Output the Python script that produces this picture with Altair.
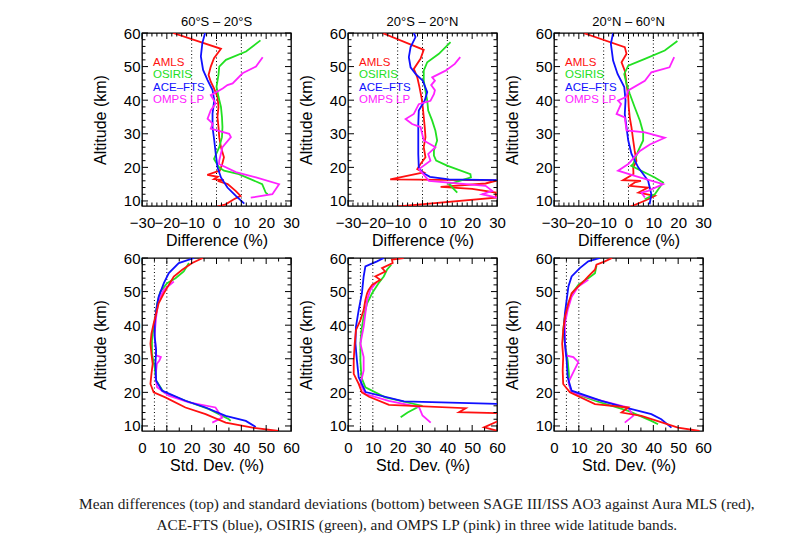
import altair as alt
import pandas as pd

FONT = "Liberation Sans"
SERIF = "Liberation Serif"

SERIES = ["AMLS", "OSIRIS", "ACE-FTS", "OMPS LP"]
LEGEND_LABELS = ["AMLS", "OSIRIS", "ACE\u2013FTS", "OMPS LP"]
COLORS = ["#ff1010", "#22e022", "#1010ff", "#ff22ff"]

TITLES = ["60\u00b0S \u2013 20\u00b0S", "20\u00b0S \u2013 20\u00b0N", "20\u00b0N \u2013 60\u00b0N"]

# ---------------- Mean differences (top row) ----------------
# 60S-20S
D1_AMLS_ALT = [60, 55.3, 52.5, 50, 47.5, 45.5, 43.5, 41, 38, 35, 32, 29, 26, 23, 21, 19, 17.8, 17.2, 16.5, 16.2, 16, 15, 13, 11.5, 10.5, 9, 8.3]
D1_AMLS_PCT = [-17.5, 1.8, -1, -2.3, -3.2, -2.3, -1, 0.4, 0.8, 0.4, 0.8, 1.1, 1.8, 3, 2.3, 1.3, -3.7, 0.5, -1, 3, 0.5, 4.5, 7.7, 9.7, 7, 3.7, 0.3]
D1_OSIRIS_ALT = [57.8, 54.5, 52, 50, 47.5, 44, 41, 38, 35, 32, 29, 26, 22.5, 20, 19, 18, 15, 12.5, 12]
D1_OSIRIS_PCT = [17.7, 11.9, 3.8, 1.1, 0.8, 0, 0.8, 1.8, 2.2, 2.4, 2.2, 1.1, -1, 1, 3, 9, 18.4, 19.8, 20.6]
D1_ACE_ALT = [60, 57, 53, 49, 46, 43, 40, 36, 32, 28, 24, 20, 17, 14, 11.5, 9.2]
D1_ACE_PCT = [-4.6, -5.7, -6.3, -5.4, -3.6, -1.6, -0.9, -1.6, -1.6, -0.9, -0.3, 0.4, 1.8, 4.4, 7.8, 11.2]
D1_OMPS_ALT = [52.8, 50, 48, 45, 44.5, 43.5, 41.5, 39, 37, 34.5, 33, 31.5, 30, 29, 26, 22, 21, 18.6, 17, 15, 12, 11]
D1_OMPS_PCT = [18.6, 15.9, 10.5, 6.5, 4.4, 2.5, -2.3, -0.3, -2.3, -3.6, -1.5, -2.3, 5.1, 5.8, 2.4, 1.1, 1, 7.8, 15.9, 25.2, 22.5, 13.8]

# 20S-20N
D2_AMLS_ALT = [60, 55, 52.3, 49.3, 46.8, 43.8, 40.8, 38, 35, 32, 29, 26, 23, 21, 19.5, 18.5, 16.4, 16.1, 15.2, 14.2, 13.6, 12.5, 11, 8.3]
D2_AMLS_PCT = [-16.2, 0.5, -0.8, -3.5, -2.1, -1.2, -0.4, 0.1, 0.5, 0.9, 1.2, 0.5, 1.2, -0.8, -2.1, 0.5, -13, 30, 25.4, 7.3, 20, 29.5, 29.5, -10.8]
D2_OSIRIS_ALT = [57.3, 53.8, 51.3, 48.8, 45.8, 42.8, 39.9, 36.9, 33.9, 30.9, 28, 25, 23.5, 22, 20.5, 18, 17, 15, 12.5]
D2_OSIRIS_PCT = [11.3, 6.6, 1.9, 0.5, 0.5, 1.2, 1.9, 2.3, 3.9, 5.2, 5.9, 4.6, 4.6, 5.5, 9.9, 19.3, 19.5, 10.7, 14]
D2_ACE_ALT = [60, 58.8, 55.8, 52.8, 49.8, 47.8, 45.8, 42.4, 39.9, 36.9, 32.9, 28, 24, 20, 18.5, 17.2, 16.4, 16.2]
D2_ACE_PCT = [-3.5, -2.8, -4.8, -5.5, -4.8, -2.8, 0.1, 1.9, 0.9, -1.5, -1.7, -1.7, -1.7, -1.5, -0.1, 3, 10.7, 30]
D2_OMPS_ALT = [52.8, 50.8, 48.8, 46.8, 45.8, 44.5, 43, 41.8, 39.8, 38.8, 35.9, 34.4, 32.9, 32, 28, 26, 24, 22, 19.5, 16, 14.5, 13, 12, 11]
D2_OMPS_PCT = [15.2, 13, 9.3, 3.9, 5, 3.5, 5, 4.6, 3.2, -1.5, -3.5, -6.8, -4.2, -0.8, 0.5, 5.2, 2.3, 3.2, -1.4, 2.6, 25.4, 28.1, 24, 30]

# 20N-60N
D3_AMLS_ALT = [60, 55.8, 53.8, 51.3, 48.8, 44.9, 40.9, 37.9, 34.9, 31.9, 28, 24.9, 21.9, 20, 18, 16.2, 16, 15.5, 14.5, 14, 12.5, 11.5, 10.2, 8.2]
D3_AMLS_PCT = [-18.2, -1.5, -0.8, -2.8, -1.5, -0.8, -0.1, 0.1, 0.5, 1.2, 1.9, 2.5, 3.2, 1.9, 2, -2.2, 5, 2.5, 0.5, 7.9, 4, 10.6, 7, 0.5]
D3_OSIRIS_ALT = [57.6, 54.8, 52.3, 50.3, 47.8, 44.9, 41.9, 37.9, 33.9, 30.4, 28, 24.9, 21, 20.5, 17, 15.5, 12, 10.5]
D3_OSIRIS_PCT = [19.7, 14.6, 6.6, -0.1, -1.7, -0.8, 0.5, 2.5, 4.6, 5.9, 5.9, 3.9, 1.9, 1.1, 10.6, 13.9, 10.6, 6.5]
D3_ACE_ALT = [60, 56.8, 51.8, 47.8, 43.9, 39.9, 35.9, 31.9, 28, 24, 20, 16, 12, 9]
D3_ACE_PCT = [-6.2, -7.1, -6.2, -4.4, -1.7, -1.2, -1.5, -0.8, -0.1, 1.2, 3.9, 7.9, 9.2, 8.5]
D3_OMPS_ALT = [52.8, 49.8, 48.3, 45.8, 42.9, 40.9, 39.9, 38.9, 35.9, 34.9, 31, 30.4, 28.8, 26.8, 24.9, 21, 19, 17.5, 15, 13, 12.5, 11]
D3_OMPS_PCT = [18.4, 16.5, 9.2, 6.6, -0.1, -1, -4.2, -3, -4.8, -1.5, -0.8, 6.6, 14.6, 8.6, 4.6, -0.1, -4.2, 2.5, 13.9, 7.9, 5.2, 6.6]

# ---------------- Standard deviations (bottom row) ----------------
S1_AMLS_ALT = [60, 58.5, 56.5, 54.5, 52, 49.5, 46.5, 43.5, 40.5, 37.5, 34.5, 31.5, 28.5, 25.5, 22.5, 20, 18.5, 15.5, 13.5, 11, 9.5, 8.5]
S1_AMLS_PCT = [24.5, 20.2, 16.2, 12.8, 10.8, 8.8, 6.7, 5.7, 4.7, 3.8, 3.4, 3.8, 4.3, 3.8, 3.4, 4.7, 9.4, 17.5, 25.6, 33.7, 44.5, 55]
S1_ACE_ALT = [60, 58.5, 55.5, 52.5, 48.5, 44.5, 40.5, 36.5, 32.5, 28.5, 23.5, 20.5, 17.5, 15.5, 13, 11.5, 9.7]
S1_ACE_PCT = [21, 14.8, 10.8, 8.8, 6.7, 5.7, 5.1, 5.1, 5.7, 5.4, 5.7, 8.1, 17.5, 25.6, 33.7, 41.8, 45.8]
S1_OSIRIS_ALT = [58.5, 56, 54, 52.5, 50, 46.5, 43.5, 39.5, 35.5, 31.5, 27.5, 23.5, 20, 17.5, 15, 12, 11.5]
S1_OSIRIS_PCT = [18.9, 16.8, 13.5, 10.1, 7.4, 6.1, 5.7, 4.7, 4, 4, 5.1, 5.7, 8.8, 17.5, 27, 35, 35.7]
S1_OMPS_ALT = [53, 50.5, 47.5, 42.5, 37.5, 31, 30.5, 29.5, 28.5, 24.5, 21.5, 19, 17, 15.5, 12.5, 11]
S1_OMPS_PCT = [12.8, 8.8, 6.7, 5.7, 5.1, 5.7, 7.6, 7, 6, 5.4, 6.1, 10.8, 18.9, 29.6, 32.3, 28.3]

S2_AMLS_ALT = [60, 59.5, 58.5, 57, 56, 54.5, 53.5, 52, 50.5, 49.5, 47.5, 44.5, 41.5, 38.5, 34.5, 29.5, 25.5, 22.5, 20, 18.7, 16.3, 15.3, 14.1, 13.8, 12.5, 11.3, 9.6, 8.6]
S2_AMLS_PCT = [22.4, 17.7, 18, 13.7, 15, 11, 13, 9.7, 8.3, 7.7, 7, 6.3, 5, 3.2, 2.7, 2.3, 2.3, 4.3, 5.6, 8.5, 16.5, 47.4, 44.7, 60, 75, 60, 54.8, 60]
S2_ACE_ALT = [60, 59, 57.5, 54.5, 49.5, 44.5, 39.5, 34.5, 29.5, 24.5, 20.1, 17.3, 16.6]
S2_ACE_PCT = [14.4, 11.7, 7, 6.3, 5.6, 4.3, 3.2, 3, 3.6, 4.3, 7.1, 22.5, 60]
S2_OSIRIS_ALT = [58, 56.5, 54.5, 52.5, 49.5, 46.5, 42.5, 38.5, 34.5, 29.5, 24.5, 21.5, 18.5, 16.1, 14, 12.6]
S2_OSIRIS_PCT = [17.4, 15.7, 14.4, 12.3, 9.7, 7.7, 6.3, 5.4, 5, 5, 5.4, 7, 15, 29.3, 24, 21.2]
S2_OMPS_ALT = [53, 50.5, 47.5, 43.5, 39.5, 34.5, 30.5, 26.5, 22.5, 19.5, 17.5, 15.6, 13.1, 11]
S2_OMPS_PCT = [11.7, 9, 7.7, 7, 6.3, 5, 6.3, 6.3, 5, 7, 16.4, 28.6, 30, 33.3]

S3_AMLS_ALT = [60, 59, 58, 56.5, 54.5, 53.5, 52, 50.5, 49.5, 46.5, 42.5, 38.5, 34.5, 30.5, 26.5, 22.5, 20, 16.5, 15.5, 14, 13, 10.5, 9.5, 8.5]
S3_AMLS_PCT = [23.4, 20.5, 17.1, 16.5, 13.8, 12.5, 10.4, 8.4, 7.1, 5.8, 4.4, 3.7, 3.3, 3.7, 3.5, 3.7, 6.4, 16.5, 29.9, 27.2, 35.2, 45.9, 49.9, 58.6]
S3_ACE_ALT = [60, 59, 57, 54.5, 51.5, 47.5, 43.5, 39.5, 34.5, 29.5, 24.5, 20.5, 17.5, 15.5, 13.5, 12, 9.5]
S3_ACE_PCT = [18.5, 13.8, 10.4, 7.1, 5.8, 5.1, 4.4, 4, 4.4, 5.1, 5.5, 7.1, 19.1, 28.5, 39.2, 43.2, 47.3]
S3_OSIRIS_ALT = [57.7, 55.5, 54, 52, 50, 46.5, 42.5, 38.5, 34.5, 29.5, 25.5, 22.5, 20, 17.5, 14.5, 11.5, 10.5]
S3_OSIRIS_PCT = [17.1, 16.5, 13.8, 9.8, 7.8, 5.8, 4.4, 3.7, 4.4, 5.5, 6, 6, 7.1, 16.5, 29.9, 39.2, 41.9]
S3_OMPS_ALT = [53.5, 51.5, 48.5, 44.5, 40.5, 35.5, 31, 30.5, 29, 26, 23, 20, 18, 15.5, 13, 11]
S3_OMPS_PCT = [13.8, 9.8, 7.1, 5.5, 4.4, 4.4, 4.8, 7.8, 9.8, 7.8, 5.8, 7.1, 16.5, 29.9, 31.9, 28.5]

DIFF_TICKS = [-30, -20, -10, 0, 10, 20, 30]
DIFF_MINOR = [v for v in range(-30, 31, 2) if v % 10 != 0]
DIFF_REF = [-10, 0, 10]
SD_TICKS = [0, 10, 20, 30, 40, 50, 60]
SD_MINOR = [5, 15, 25, 35, 45, 55]
SD_REF = [5, 10]
ALT_TICKS = [10, 20, 30, 40, 50, 60]
ALT_MINOR = [v for v in range(10, 61, 2) if v % 10 != 0]

CAPTION = [
    "Mean differences (top) and standard deviations (bottom) between SAGE III/ISS AO3 against Aura MLS (red),",
    "ACE-FTS (blue), OSIRIS (green), and OMPS LP (pink) in three wide latitude bands.",
]

W = 149
H = 173
MAJ = 6
MIN = 3.5


def build_df(groups):
    rows = []
    for name, alts, pcts in groups:
        for i, (a, p) in enumerate(zip(alts, pcts)):
            rows.append({"series": name, "alt": a, "pct": p, "idx": i})
    return pd.DataFrame(rows)


color_scale = alt.Scale(domain=SERIES, range=COLORS)


def panel(df, xdom, xmajor, xminor, refs, xtitle, title=None, legend=False):
    xs = alt.Scale(domain=xdom, nice=False, zero=False)
    ys = alt.Scale(domain=[8.5, 60], nice=False, zero=False)
    # the same axis definitions are shared by every layer so they merge into one
    x_axis = alt.Axis(orient="bottom", values=xmajor, ticks=False, labelPadding=9,
                      title=xtitle, titlePadding=2, domain=False, grid=False,
                      labelOverlap=False, labelFlush=False)
    y_axis = alt.Axis(orient="left", values=ALT_TICKS, ticks=False, labelPadding=2,
                      title="Altitude (km)", titlePadding=15, domain=False, grid=False,
                      labelOverlap=False)

    def x_ticks(vals, y_from, y_to):
        return alt.Chart(pd.DataFrame({"pct": vals})).mark_rule(
            color="black", strokeWidth=1).encode(
            x=alt.X("pct:Q", scale=xs, axis=x_axis),
            y=alt.value(y_from), y2=alt.value(y_to))

    def y_ticks(vals, x_from, x_to):
        return alt.Chart(pd.DataFrame({"alt": vals})).mark_rule(
            color="black", strokeWidth=1).encode(
            y=alt.Y("alt:Q", scale=ys, axis=y_axis),
            x=alt.value(x_from), x2=alt.value(x_to))

    ref = alt.Chart(pd.DataFrame({"pct": refs})).mark_rule(
        color="black", strokeDash=[1, 2.5], strokeWidth=1
    ).encode(x=alt.X("pct:Q", scale=xs, axis=x_axis))
    lines = alt.Chart(df).mark_line(strokeWidth=1.8, clip=True).encode(
        x=alt.X("pct:Q", scale=xs, axis=x_axis),
        y=alt.Y("alt:Q", scale=ys, axis=y_axis),
        color=alt.Color("series:N", scale=color_scale, legend=None),
        order=alt.Order("idx:Q"),
    )
    layers = [
        ref,
        lines,
        x_ticks(xmajor, H, H - MAJ),
        x_ticks(xminor, H, H - MIN),
        x_ticks(xmajor, 0, MAJ),
        x_ticks(xminor, 0, MIN),
        y_ticks(ALT_TICKS, 0, MAJ),
        y_ticks(ALT_MINOR, 0, MIN),
        y_ticks(ALT_TICKS, W, W - MAJ),
        y_ticks(ALT_MINOR, W, W - MIN),
    ]
    if legend:
        leg = alt.Chart(pd.DataFrame({"series": SERIES, "label": LEGEND_LABELS,
                                      "rank": list(range(len(SERIES)))})).transform_calculate(
            alt="51 - 3.65 * datum.rank"
        ).mark_text(align="left", baseline="middle", font=FONT, fontSize=11.5).encode(
            x=alt.value(11),
            y=alt.Y("alt:Q", scale=ys, axis=y_axis),
            text="label:N",
            color=alt.Color("series:N", scale=color_scale, legend=None),
        )
        layers.append(leg)
    ch = alt.layer(*layers)
    props = dict(width=W, height=H)
    if title is not None:
        props["title"] = alt.TitleParams(title, font=FONT, fontSize=13, fontWeight="normal",
                                         color="black", offset=-3, anchor="middle", frame="group")
    return ch.properties(**props)


diff_sets = [
    [("AMLS", D1_AMLS_ALT, D1_AMLS_PCT), ("OSIRIS", D1_OSIRIS_ALT, D1_OSIRIS_PCT),
     ("ACE-FTS", D1_ACE_ALT, D1_ACE_PCT), ("OMPS LP", D1_OMPS_ALT, D1_OMPS_PCT)],
    [("AMLS", D2_AMLS_ALT, D2_AMLS_PCT), ("OSIRIS", D2_OSIRIS_ALT, D2_OSIRIS_PCT),
     ("ACE-FTS", D2_ACE_ALT, D2_ACE_PCT), ("OMPS LP", D2_OMPS_ALT, D2_OMPS_PCT)],
    [("AMLS", D3_AMLS_ALT, D3_AMLS_PCT), ("OSIRIS", D3_OSIRIS_ALT, D3_OSIRIS_PCT),
     ("ACE-FTS", D3_ACE_ALT, D3_ACE_PCT), ("OMPS LP", D3_OMPS_ALT, D3_OMPS_PCT)],
]
sd_sets = [
    [("OSIRIS", S1_OSIRIS_ALT, S1_OSIRIS_PCT), ("OMPS LP", S1_OMPS_ALT, S1_OMPS_PCT),
     ("ACE-FTS", S1_ACE_ALT, S1_ACE_PCT), ("AMLS", S1_AMLS_ALT, S1_AMLS_PCT)],
    [("OSIRIS", S2_OSIRIS_ALT, S2_OSIRIS_PCT), ("OMPS LP", S2_OMPS_ALT, S2_OMPS_PCT),
     ("ACE-FTS", S2_ACE_ALT, S2_ACE_PCT), ("AMLS", S2_AMLS_ALT, S2_AMLS_PCT)],
    [("OSIRIS", S3_OSIRIS_ALT, S3_OSIRIS_PCT), ("OMPS LP", S3_OMPS_ALT, S3_OMPS_PCT),
     ("ACE-FTS", S3_ACE_ALT, S3_ACE_PCT), ("AMLS", S3_AMLS_ALT, S3_AMLS_PCT)],
]

panels = [
    panel(build_df(g), [-30, 30], DIFF_TICKS, DIFF_MINOR, DIFF_REF, "Difference (%)",
          title=t, legend=True)
    for g, t in zip(diff_sets, TITLES)
] + [
    panel(build_df(g), [0, 60], SD_TICKS, SD_MINOR, SD_REF, "Std. Dev. (%)")
    for g in sd_sets
]

chart = alt.concat(
    *panels, columns=3, spacing=alt.RowColnumber(row=52, column=57), bounds="flush"
).properties(
    title=alt.TitleParams(CAPTION, orient="bottom", anchor="middle", font=SERIF, fontSize=15.3,
                          fontWeight="normal", color="#1a1a1a", lineHeight=21, offset=23, dx=15),
    padding={"left": 70, "top": 7, "right": 5, "bottom": 5},
).configure_view(
    stroke="black", strokeWidth=1.3
).configure_axis(
    labelFont=FONT, titleFont=FONT, labelFontSize=15, titleFontSize=16,
    titleFontWeight="normal", labelColor="black", titleColor="black",
)

chart.save("out.html", embed_options={"renderer": "svg", "actions": False})
